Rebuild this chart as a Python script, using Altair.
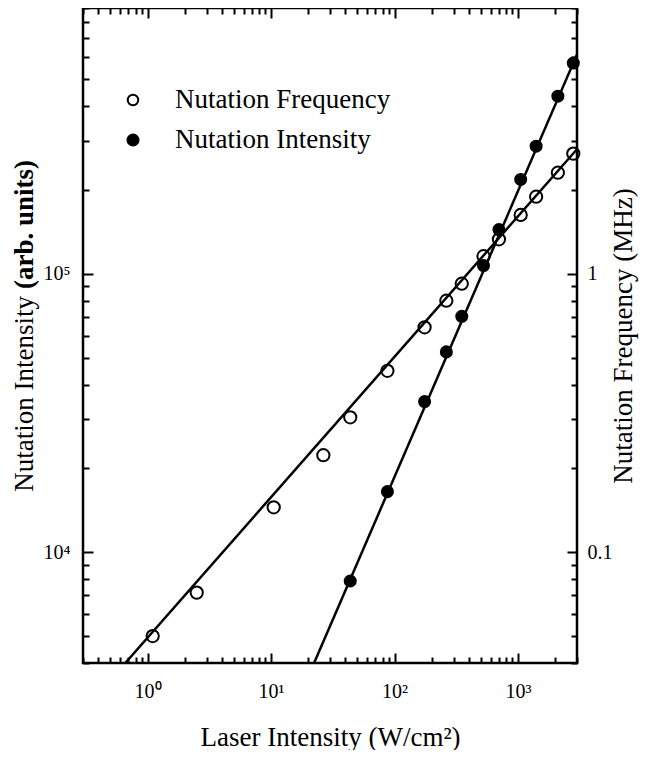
import altair as alt
import pandas as pd

# ---------------- data ----------------
# Nutation frequency (open circles, right axis, MHz)
freq_laser = [1.1, 2.5, 10.5, 26.5, 43.75, 87.5, 175, 262.5, 350, 525, 700, 1050, 1400, 2100, 2800]
freq_mhz = [0.050, 0.0716, 0.145, 0.223, 0.305, 0.448, 0.642, 0.80, 0.921, 1.156, 1.329, 1.626, 1.890, 2.305, 2.70]

# Nutation intensity (filled circles, left axis, arb. units)
int_laser = [43.75, 87.5, 175, 262.5, 350, 525, 700, 1050, 1400, 2100, 2800]
int_value = [7880, 16500, 34750, 52400, 70300, 107000, 144000, 218000, 287000, 434000, 571000]

# fitted straight lines (end points)
freq_fit_laser = [0.66, 3000]
freq_fit_mhz = [0.040, 2.80]
int_fit_laser = [22.3, 3000]
int_fit_value = [4000, 613000]

# ticks
x_ticks = [0.3, 0.4, 0.5, 0.6, 0.7, 0.8, 0.9,
           1, 2, 3, 4, 5, 6, 7, 8, 9,
           10, 20, 30, 40, 50, 60, 70, 80, 90,
           100, 200, 300, 400, 500, 600, 700, 800, 900,
           1000, 2000, 3000]
x_major = [1, 10, 100, 1000]
x_major_labels = ["10\u2070", "10\u00b9", "10\u00b2", "10\u00b3"]

y_ticks = [4000, 5000, 6000, 7000, 8000, 9000,
           10000, 20000, 30000, 40000, 50000, 60000, 70000, 80000, 90000,
           100000, 200000, 300000, 400000, 500000, 600000, 700000, 800000, 900000]
y_major = [10000, 100000]
y_major_labels = ["10\u2074", "10\u2075"]

f_ticks = [0.04, 0.05, 0.06, 0.07, 0.08, 0.09,
           0.1, 0.2, 0.3, 0.4, 0.5, 0.6, 0.7, 0.8, 0.9,
           1, 2, 3, 4, 5, 6, 7, 8, 9]
f_major = [0.1, 1]
f_major_labels = ["0.1", "1"]

legend_labels = ["Nutation Frequency", "Nutation Intensity"]
left_title_plain = ["Nutation Intensity"]
left_title_bold = ["(arb. units)"]

# ---------------- styling ----------------
FONT = "Liberation Serif"
MAJOR = 10
MINOR_DASH = [0, 4, 6, 40]
LABEL_SIZE = 20
TITLE_SIZE = 27


def label_expr(majors, labels):
    expr = "''"
    for m, l in reversed(list(zip(majors, labels))):
        expr = f"datum.value == {m} ? '{l}' : ({expr})"
    return expr


def tick_dash(majors):
    return {"condition": {"test": f"indexof({list(majors)}, datum.value) < 0", "value": MINOR_DASH},
            "value": [MAJOR, 0]}


def make_axis(orient, values, majors, labels=None, title=None, **kw):
    args = dict(orient=orient, values=values, offset=-MAJOR, tickSize=MAJOR, tickWidth=2,
                tickColor="black", tickDash=tick_dash(majors), domain=False, grid=False,
                labelOverlap=False, labelFlush=False)
    if labels is not None:
        args.update(labelExpr=label_expr(majors, labels), labelFont=FONT,
                    labelFontSize=LABEL_SIZE, labelColor="black")
    else:
        args.update(labels=False)
    if title is not None:
        args.update(title=title, titleFont=FONT, titleFontSize=TITLE_SIZE,
                    titleFontWeight="normal", titleColor="black")
    else:
        args.update(title=None)
    args.update(kw)
    return alt.Axis(**args)


x_scale = alt.Scale(type="log", domain=[0.3, 3000])
y_int_scale = alt.Scale(type="log", domain=[4000, 900000])
y_freq_scale = alt.Scale(type="log", domain=[0.04, 9])

x_bottom = make_axis("bottom", x_ticks, x_major, x_major_labels,
                     title="Laser Intensity (W/cm\u00b2)", labelPadding=18, titlePadding=23)
x_top = make_axis("top", x_ticks, x_major)
y_left = make_axis("left", y_ticks, y_major, y_major_labels, labelPadding=13)
y_right = make_axis("right", f_ticks, f_major, f_major_labels,
                    title="Nutation Frequency (MHz)", labelPadding=10, titlePadding=25,
                    titleAngle=270)

int_df = pd.DataFrame({"laser": int_laser, "value": int_value})
int_fit_df = pd.DataFrame({"laser": int_fit_laser, "value": int_fit_value})
freq_df = pd.DataFrame({"laser": freq_laser, "freq": freq_mhz})
freq_fit_df = pd.DataFrame({"laser": freq_fit_laser, "freq": freq_fit_mhz})

int_line = alt.Chart(int_fit_df).mark_line(color="black", strokeWidth=2.5, clip=True).encode(
    x=alt.X("laser:Q", scale=x_scale, axis=x_bottom),
    y=alt.Y("value:Q", scale=y_int_scale, axis=y_left),
)
int_pts = alt.Chart(int_df).mark_point(shape="circle", filled=True, color="black", size=170,
                                       opacity=1).encode(
    x=alt.X("laser:Q", scale=x_scale, axis=x_bottom),
    y=alt.Y("value:Q", scale=y_int_scale, axis=y_left),
)
int_group = alt.layer(int_line, int_pts)

freq_line = alt.Chart(freq_fit_df).mark_line(color="black", strokeWidth=2.5, clip=True).encode(
    x=alt.X("laser:Q", scale=x_scale, axis=x_top),
    y=alt.Y("freq:Q", scale=y_freq_scale, axis=y_right),
)
freq_pts = alt.Chart(freq_df).mark_point(shape="circle", filled=False, color="black", size=150,
                                         strokeWidth=2, opacity=1).encode(
    x=alt.X("laser:Q", scale=x_scale, axis=x_top),
    y=alt.Y("freq:Q", scale=y_freq_scale, axis=y_right),
)
freq_group = alt.layer(freq_line, freq_pts)

legend_df = pd.DataFrame({"label": legend_labels, "filled": [False, True]})
leg_y = alt.Y("label:N", scale=alt.Scale(type="point", domain=legend_labels, range=[92, 132], padding=0),
              axis=None)
leg_open = alt.Chart(legend_df).transform_filter(alt.datum.filled == False).mark_point(
    shape="circle", filled=False, color="black", size=110, strokeWidth=2, opacity=1).encode(
    x=alt.value(50), y=leg_y)
leg_fill = alt.Chart(legend_df).transform_filter(alt.datum.filled == True).mark_point(
    shape="circle", filled=True, color="black", size=170, opacity=1).encode(
    x=alt.value(50), y=leg_y)
leg_text = alt.Chart(legend_df).mark_text(align="left", baseline="middle", font=FONT,
                                          fontSize=TITLE_SIZE, color="black").encode(
    x=alt.value(92), y=leg_y, text="label:N")

# left axis title: plain part + bold part, as in the original figure
title_plain = alt.Chart(pd.DataFrame({"t": left_title_plain})).mark_text(
    angle=270, align="right", baseline="middle", font=FONT, fontSize=TITLE_SIZE,
    fontWeight="normal", color="black").encode(
    x=alt.value(-58), y=alt.value(288), text="t:N")
title_bold = alt.Chart(pd.DataFrame({"t": left_title_bold})).mark_text(
    angle=270, align="left", baseline="middle", font=FONT, fontSize=TITLE_SIZE,
    fontWeight="bold", color="black").encode(
    x=alt.value(-58), y=alt.value(281), text="t:N")

legend = alt.layer(leg_open, leg_fill, leg_text, title_plain, title_bold)

chart = alt.layer(int_group, freq_group, legend).resolve_scale(
    y="independent"
).resolve_axis(
    x="independent", y="independent"
).properties(
    width=494, height=655,
    autosize=alt.AutoSizeParams(type="none"),
    padding={"left": 75, "top": 0, "right": 64, "bottom": 87},
    background="white",
).configure_view(stroke="black", strokeWidth=2.5)

chart.save("out.html", embed_options={"renderer": "svg", "actions": False})
